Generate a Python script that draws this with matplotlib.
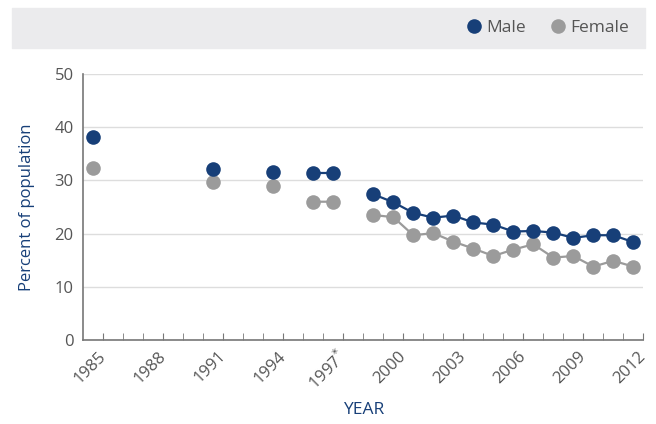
import numpy as np
import pandas as pd
import matplotlib
matplotlib.use("Agg")
import matplotlib.pyplot as plt
from matplotlib.lines import Line2D
from matplotlib.patches import Rectangle

years = [1985, 1991, 1994, 1996, 1997, 1999, 2000, 2001, 2002, 2003, 2004,
         2005, 2006, 2007, 2008, 2009, 2010, 2011, 2012]
male = [38.1, 32.1, 31.5, 31.4, 31.4, 27.4, 25.9, 23.9, 23.0, 23.4, 22.1,
        21.7, 20.4, 20.5, 20.2, 19.2, 19.7, 19.7, 18.4]
female = [32.3, 29.8, 28.9, 26.0, 26.0, 23.5, 23.1, 19.7, 20.1, 18.5, 17.2,
          15.8, 17.0, 18.0, 15.5, 15.8, 13.8, 14.9, 13.8]
tick_years = [1985, 1988, 1991, 1994, 1997, 2000, 2003, 2006, 2009, 2012]
tick_labels = ["1985", "1988", "1991", "1994", r"1997$^{*}$", "2000", "2003",
               "2006", "2009", "2012"]

navy = "#173f78"
grey = "#9b9b9b"
text_grey = "#555555"

# full year range so missing years break the lines
all_years = np.arange(1985, 2013)
df = pd.DataFrame({"male": male, "female": female}, index=years).reindex(all_years)

plt.rcParams["font.family"] = ["Open Sans", "DejaVu Sans"]

fig = plt.figure(figsize=(6.56, 4.24), dpi=100)
fig.patches.append(Rectangle((12 / 656, 1 - 48 / 424), 633 / 656, 40 / 424,
                             transform=fig.transFigure, color="#ebebed", zorder=0))

ax = fig.add_axes([0.127, 0.198, 0.8537, 0.6274])

ax.plot(df.index, df["female"], color=grey, lw=1.6, marker="o", ms=10.5,
        mec="none", zorder=3)
ax.plot(df.index, df["male"], color=navy, lw=1.6, marker="o", ms=10.5,
        mec="none", zorder=4)

ax.set_xlim(1984.5, 2012.5)
ax.set_ylim(0, 50)
ax.set_yticks([0, 10, 20, 30, 40, 50])
ax.yaxis.grid(True, color="#dddddd", lw=1)
ax.set_axisbelow(True)

ax.set_xticks([y + 0.5 for y in tick_years])
ax.set_xticklabels(tick_labels, rotation=45, ha="right", va="center",
                   rotation_mode="anchor")
ax.set_xticks(np.arange(1985.5, 2012.5, 1), minor=True)
ax.tick_params(axis="x", which="both", direction="in", length=5, color="#777777",
               labelsize=12, labelcolor=text_grey, pad=10)
ax.tick_params(axis="y", length=0, labelsize=12, labelcolor=text_grey, pad=7)

for s in ["top", "right"]:
    ax.spines[s].set_visible(False)
for s in ["left", "bottom"]:
    ax.spines[s].set_color("#777777")
    ax.spines[s].set_linewidth(1.2)

ax.set_ylabel("Percent of population", color=navy, fontsize=12, labelpad=14)
ax.set_xlabel("YEAR", color=navy, fontsize=12.5, labelpad=6)

handles = [Line2D([], [], ls="none", marker="o", ms=10.5, color=navy, mec="none"),
           Line2D([], [], ls="none", marker="o", ms=10.5, color=grey, mec="none")]
fig.legend(handles, ["Male", "Female"], loc="center right",
           bbox_to_anchor=(645 / 656, 1 - 28 / 424), ncol=2, frameon=False,
           fontsize=12.5, labelcolor=text_grey, handletextpad=0.1,
           columnspacing=1.3, handlelength=1.2)

fig.savefig("out.png", dpi=100)
